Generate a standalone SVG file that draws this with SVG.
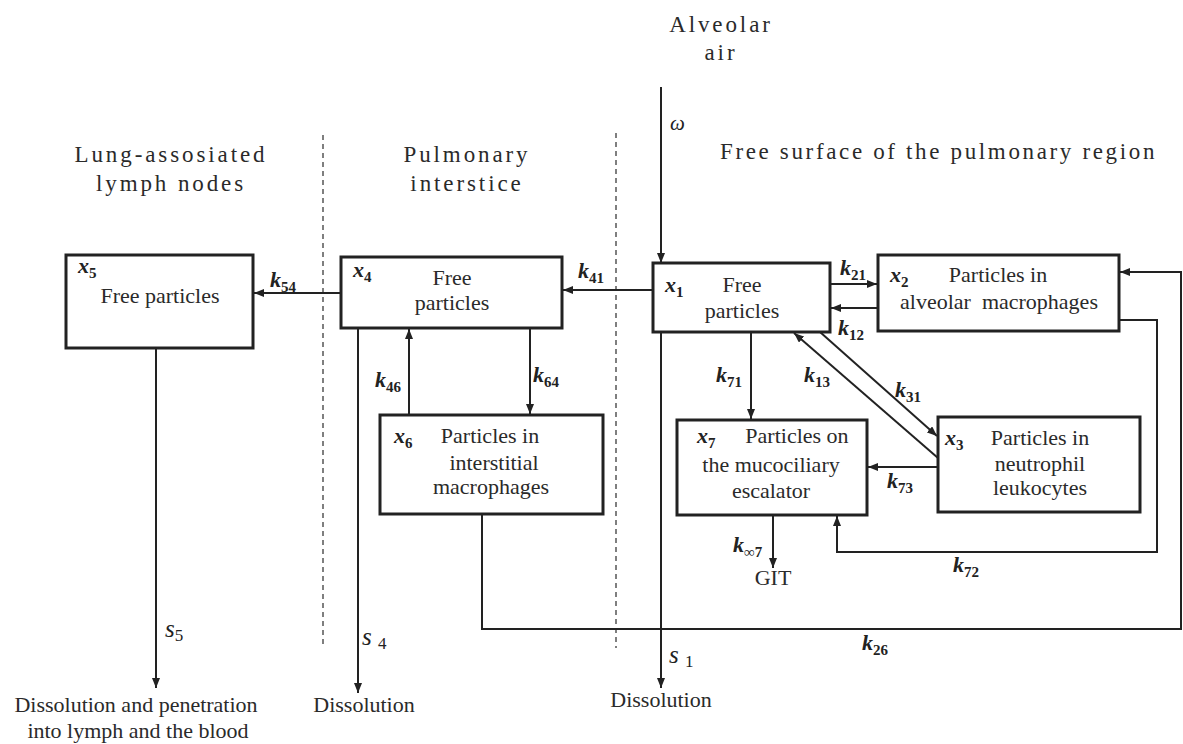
<svg xmlns="http://www.w3.org/2000/svg" width="1183" height="744" viewBox="0 0 1183 744">
<style>
  .box { fill: #fff; stroke: #222; stroke-width: 3; }
  .ln { fill: none; stroke: #222; stroke-width: 2; }
  .dash { fill: none; stroke: #555; stroke-width: 1.5; stroke-dasharray: 5 4; }
  text { font-family: 'Liberation Serif', 'DejaVu Serif', serif; }
  .t { font-size: 22px; fill: #2a2a2a; }
  .c { text-anchor: middle; }
  .hd { font-size: 23px; fill: #2a2a2a; letter-spacing: 2.9px; }
  .v { font-size: 22px; font-style: italic; font-weight: bold; fill: #222; }
  .s { font-size: 25px; font-style: italic; fill: #222; }
  .sub { font-size: 15px; font-style: normal; }
</style>
<defs>
  <marker id="ah" viewBox="0 0 10 8" refX="10" refY="4" markerWidth="10" markerHeight="8" markerUnits="userSpaceOnUse" orient="auto">
    <path d="M0,0 L10,4 L0,8 z" fill="#222"/>
  </marker>
</defs>
<rect width="1183" height="744" fill="#fff"/>

<g id="headers">
  <text class="hd c" x="721" y="32">Alveolar</text>
  <text class="hd c" x="721" y="60">air</text>
  <text class="hd" x="720" y="159" style="letter-spacing:2.65px">Free surface of the pulmonary region</text>
  <text class="hd c" x="171" y="162">Lung-assosiated</text>
  <text class="hd c" x="171" y="191">lymph nodes</text>
  <text class="hd c" x="467" y="162">Pulmonary</text>
  <text class="hd c" x="467" y="191">interstice</text>
</g>

<g id="dividers">
  <path class="dash" d="M323,135 V647"/>
  <path class="dash" d="M616,133 V648"/>
</g>

<g id="connectors">
  <path class="ln" d="M661,87 V263" marker-end="url(#ah)"/>
  <path class="ln" d="M653,290 H563" marker-end="url(#ah)"/>
  <path class="ln" d="M341,293 H254" marker-end="url(#ah)"/>
  <path class="ln" d="M830,284 H877" marker-end="url(#ah)"/>
  <path class="ln" d="M878,308 H831" marker-end="url(#ah)"/>
  <path class="ln" d="M751,332 V419" marker-end="url(#ah)"/>
  <path class="ln" d="M820,332 L937,436" marker-end="url(#ah)"/>
  <path class="ln" d="M938,458 L794,333" marker-end="url(#ah)"/>
  <path class="ln" d="M938,467 H868" marker-end="url(#ah)"/>
  <path class="ln" d="M773,515 V568" marker-end="url(#ah)"/>
  <path class="ln" d="M1119,320 H1157 V552 H837 V516" marker-end="url(#ah)"/>
  <path class="ln" d="M482,514 V629 H1181 V272 H1120" marker-end="url(#ah)"/>
  <path class="ln" d="M409,415 V329" marker-end="url(#ah)"/>
  <path class="ln" d="M530,328 V414" marker-end="url(#ah)"/>
  <path class="ln" d="M661,332 V688" marker-end="url(#ah)"/>
  <path class="ln" d="M358,328 V693" marker-end="url(#ah)"/>
  <path class="ln" d="M156,348 V688" marker-end="url(#ah)"/>
</g>

<g id="rate-labels">
  <text class="s" x="670" y="130" style="font-size:21px">ω</text>
  <text class="v" x="270" y="287">k<tspan class="sub" dy="5">54</tspan></text>
  <text class="v" x="578" y="278">k<tspan class="sub" dy="5">41</tspan></text>
  <text class="v" x="840" y="275">k<tspan class="sub" dy="5">21</tspan></text>
  <text class="v" x="838" y="335">k<tspan class="sub" dy="5">12</tspan></text>
  <text class="v" x="716" y="382">k<tspan class="sub" dy="5">71</tspan></text>
  <text class="v" x="804" y="382">k<tspan class="sub" dy="5">13</tspan></text>
  <text class="v" x="895" y="397">k<tspan class="sub" dy="5">31</tspan></text>
  <text class="v" x="375" y="387">k<tspan class="sub" dy="5">46</tspan></text>
  <text class="v" x="533" y="382">k<tspan class="sub" dy="5">64</tspan></text>
  <text class="v" x="887" y="488">k<tspan class="sub" dy="5">73</tspan></text>
  <text class="v" x="733" y="552">k<tspan class="sub" dy="5">∞7</tspan></text>
  <text class="v" x="953" y="572">k<tspan class="sub" dy="5">72</tspan></text>
  <text class="v" x="862" y="650">k<tspan class="sub" dy="5">26</tspan></text>
  <text class="s" x="165" y="637">s<tspan class="sub" dy="4" style="font-size:17px">5</tspan></text>
  <text class="s" x="362" y="645">s <tspan class="sub" dy="4" style="font-size:17px">4</tspan></text>
  <text class="s" x="669" y="663">s <tspan class="sub" dy="4" style="font-size:17px">1</tspan></text>
</g>

<g id="x5">
  <rect class="box" x="66" y="255" width="187" height="93"/>
  <text class="v" x="78" y="273">x<tspan class="sub" dy="5">5</tspan></text>
  <text class="t c" x="160" y="303">Free particles</text>
</g>
<g id="x4">
  <rect class="box" x="341" y="257" width="221" height="71"/>
  <text class="v" x="353" y="277">x<tspan class="sub" dy="5">4</tspan></text>
  <text class="t c" x="452" y="285">Free</text>
  <text class="t c" x="452" y="310">particles</text>
</g>
<g id="x6">
  <rect class="box" x="380" y="415" width="223" height="99"/>
  <text class="v" x="394" y="443">x<tspan class="sub" dy="5">6</tspan></text>
  <text class="t c" x="490" y="443">Particles in</text>
  <text class="t c" x="494" y="470">interstitial</text>
  <text class="t c" x="491" y="494">macrophages</text>
</g>
<g id="x1">
  <rect class="box" x="653" y="263" width="177" height="69"/>
  <text class="v" x="665" y="292">x<tspan class="sub" dy="5">1</tspan></text>
  <text class="t c" x="742" y="292">Free</text>
  <text class="t c" x="742" y="318">particles</text>
</g>
<g id="x2">
  <rect class="box" x="878" y="255" width="241" height="76"/>
  <text class="v" x="890" y="282">x<tspan class="sub" dy="5">2</tspan></text>
  <text class="t c" x="998" y="282">Particles in</text>
  <text class="t c" x="999" y="309" xml:space="preserve">alveolar  macrophages</text>
</g>
<g id="x7">
  <rect class="box" x="677" y="420" width="190" height="95"/>
  <text class="v" x="697" y="443">x<tspan class="sub" dy="5">7</tspan></text>
  <text class="t c" x="797" y="443">Particles on</text>
  <text class="t c" x="771" y="472">the mucociliary</text>
  <text class="t c" x="771" y="498">escalator</text>
</g>
<g id="x3">
  <rect class="box" x="938" y="417" width="202" height="95"/>
  <text class="v" x="945" y="445">x<tspan class="sub" dy="5">3</tspan></text>
  <text class="t c" x="1040" y="445">Particles in</text>
  <text class="t c" x="1040" y="471">neutrophil</text>
  <text class="t c" x="1040" y="495">leukocytes</text>
</g>

<g id="outputs">
  <text class="t c" x="773" y="585">GIT</text>
  <text class="t c" x="661" y="707">Dissolution</text>
  <text class="t c" x="364" y="712">Dissolution</text>
  <text class="t c" x="136" y="712">Dissolution and penetration</text>
  <text class="t c" x="138" y="738">into lymph and the blood</text>
</g>
</svg>
